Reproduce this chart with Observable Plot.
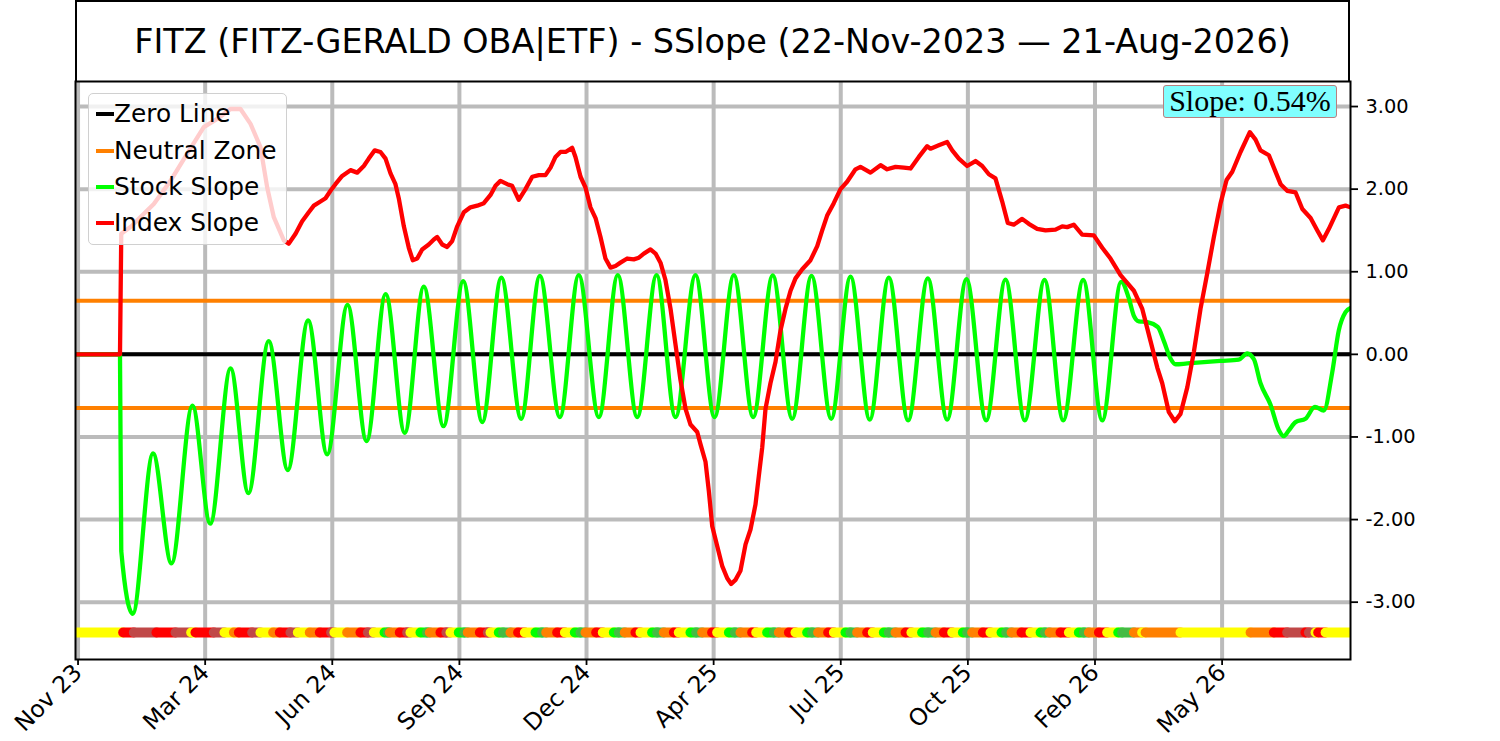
<!DOCTYPE html>
<html><head><meta charset="utf-8">
<script src="https://cdn.jsdelivr.net/npm/d3@7"></script>
<script src="https://cdn.jsdelivr.net/npm/@observablehq/plot@0.6"></script>
<style>
body{margin:0;background:#fff;}
#wrap{position:relative;width:1500px;height:741px;font-family:"DejaVu Sans",sans-serif;overflow:hidden;}
#chart{position:absolute;left:0;top:0;}
#title{position:absolute;left:75px;top:0;width:1275px;height:81px;box-sizing:border-box;border:2px solid #000;border-bottom:none;display:flex;align-items:center;justify-content:center;font-size:33.45px;color:#000;white-space:nowrap;}
#legend{position:absolute;left:88px;top:93px;width:199px;height:152px;box-sizing:border-box;border:1px solid #d0d0d0;border-radius:5px;background:rgba(255,255,255,0.8);}
#legend .sw{position:absolute;left:7px;width:18px;height:4px;}
#legend .lb{position:absolute;left:25px;font-size:24.8px;line-height:30px;color:#000;white-space:nowrap;}
#slope{position:absolute;left:1163px;top:85px;width:174px;height:33px;box-sizing:border-box;border:1.5px solid #b88080;border-radius:3px;background:#80ffff;font-family:"Liberation Serif",serif;font-size:30px;line-height:30px;text-align:center;color:#000;white-space:nowrap;}
</style></head>
<body>
<div id="wrap"><div id="chart"></div><div id="title"></div><div id="legend"></div><div id="slope"></div></div>
<script>
// ---------- data ----------
const startDate = "2023-11-22";
const endDate = "2026-08-21";
const titleText = "FITZ (FITZ-GERALD OBA|ETF) - SSlope (22-Nov-2023 \u2014 21-Aug-2026)";
const slopeText = "Slope: 0.54%";
const tickDates = ["2023-11-24","2024-03-03","2024-06-11","2024-09-19","2024-12-28","2025-04-07","2025-07-16","2025-10-24","2026-02-01","2026-05-12"];
const yTicks = [-3, -2, -1, 0, 1, 2, 3];
const neutralZone = [0.65, -0.65];
const dotLevel = -3.367;

// [day offset from start, value]
const stockSlope = [[0,0],[35,0],[36,-2.38],[45,-3.14],[61,-1.20],[75.5,-2.53],[92,-0.62],[106,-2.05],[122,-0.17],[136,-1.68],[152,0.16],[167,-1.40],[183,0.41],[198,-1.21],[214,0.60],[229,-1.05],[244,0.73],[259,-0.95],[274,0.82],[289.5,-0.87],[305,0.885],[320,-0.82],[335,0.93],[350.6,-0.78],[365.3,0.95],[381,-0.76],[395.9,0.96],[411.7,-0.76],[426.6,0.96],[441.9,-0.76],[457.1,0.96],[472,-0.76],[487.7,0.96],[502.7,-0.76],[517.9,0.96],[533.1,-0.76],[548.5,0.955],[563.8,-0.78],[579,0.95],[594.5,-0.78],[609.7,0.94],[624.8,-0.79],[639.8,0.93],[655,-0.80],[670.5,0.92],[685.7,-0.79],[700.9,0.91],[716.4,-0.80],[731.6,0.905],[746.8,-0.80],[762.3,0.90],[777,-0.80],[792.7,0.90],[807.7,-0.80],[822.6,0.877],[828.6,0.68],[832.5,0.47],[836.5,0.40],[843.1,0.39],[851.5,0.33],[856.2,0.16],[861.4,-0.05],[865.4,-0.12],[874.6,-0.11],[900.8,-0.08],[915.1,-0.065],[921.8,0.01],[927,-0.06],[932.2,-0.35],[940.1,-0.61],[946.6,-0.915],[950.6,-0.99],[954.5,-0.92],[959.8,-0.82],[967.6,-0.78],[975,-0.635],[982,-0.68],[988.6,-0.22],[993.8,0.29],[999.1,0.51],[1003,0.56]];

const indexSlope = [[0,0],[35,0],[36,1.46],[44,1.55],[51,1.66],[61.6,1.82],[74.7,2.10],[87.9,2.43],[100.9,2.75],[111.5,2.85],[121.9,2.97],[129.8,2.97],[137.7,2.79],[145.5,2.51],[150.8,2.02],[156,1.66],[163.9,1.38],[167.8,1.34],[173.1,1.46],[178.3,1.61],[183.5,1.72],[187.5,1.80],[192.7,1.85],[196.7,1.89],[200.6,1.98],[204.5,2.06],[209.8,2.16],[216.3,2.23],[221.6,2.20],[226.8,2.28],[230.7,2.37],[235.4,2.47],[239.9,2.45],[243.9,2.37],[247.8,2.19],[251.7,2.06],[254.3,1.89],[258.3,1.55],[262.2,1.29],[265.3,1.14],[268.8,1.16],[272.7,1.27],[277.9,1.33],[281.9,1.39],[284.5,1.42],[288.5,1.33],[292.4,1.30],[296.3,1.37],[300.3,1.55],[305.5,1.72],[310.7,1.78],[316,1.80],[321.2,1.83],[326.5,1.93],[330.4,2.04],[334.3,2.10],[339.6,2.06],[343.5,2.04],[348.7,1.87],[354,2.00],[359.3,2.15],[364.5,2.17],[369.7,2.17],[373.7,2.26],[377.6,2.39],[381.5,2.45],[385.5,2.45],[390.7,2.50],[393.3,2.39],[397.3,2.15],[401.2,2.02],[405.1,1.78],[409.1,1.65],[413,1.42],[416.9,1.16],[420.9,1.05],[424.8,1.07],[428.7,1.11],[434,1.16],[439.2,1.15],[443.2,1.17],[447.1,1.22],[452.3,1.27],[456.3,1.22],[460.2,1.11],[464.1,0.90],[468.1,0.55],[472,0.12],[475.9,-0.31],[479.9,-0.66],[483.8,-0.85],[489.1,-0.94],[491.7,-1.09],[495.6,-1.30],[498.2,-1.65],[500.9,-2.08],[504.8,-2.32],[508.7,-2.56],[512.7,-2.71],[515.8,-2.78],[519.2,-2.73],[523.1,-2.62],[527.1,-2.30],[531,-2.12],[534.9,-1.82],[537.5,-1.48],[540.2,-1.13],[542.8,-0.66],[546.7,-0.35],[550.7,-0.09],[554.6,0.29],[558.5,0.55],[562.5,0.77],[566.4,0.92],[571.7,1.03],[578.2,1.14],[583.5,1.31],[587.4,1.50],[591.3,1.68],[596.5,1.83],[601.8,2.00],[607,2.09],[613.6,2.24],[617.5,2.27],[625.4,2.20],[633.3,2.29],[638.5,2.24],[645.1,2.27],[651.6,2.26],[656.9,2.25],[663.4,2.39],[670,2.52],[672.6,2.49],[679.1,2.53],[685.7,2.57],[689.7,2.47],[694.9,2.37],[701.4,2.28],[708,2.34],[713.3,2.28],[718.5,2.18],[723.7,2.13],[729,1.85],[733.4,1.59],[738.1,1.57],[744.7,1.64],[749.9,1.58],[756.5,1.52],[763.1,1.50],[770.9,1.51],[776.2,1.55],[780.1,1.54],[785.3,1.57],[791.9,1.45],[801.1,1.44],[807.7,1.29],[814.2,1.16],[822.1,0.96],[832.6,0.77],[839.2,0.55],[845.7,0.16],[851,-0.16],[854.9,-0.35],[860.1,-0.70],[864.8,-0.81],[869.3,-0.72],[874.6,-0.40],[879.8,0.03],[885,0.55],[890.3,0.98],[895.5,1.42],[900.8,1.83],[905.5,2.11],[910,2.21],[916.5,2.45],[923.8,2.69],[928.3,2.60],[932.2,2.47],[938.8,2.41],[942.7,2.26],[948,2.06],[953.2,1.98],[959.8,1.96],[965.1,1.76],[971.6,1.65],[976.9,1.50],[981.3,1.38],[986,1.52],[993.9,1.78],[999.1,1.80],[1003,1.78]];

// signal dots: [start day, state]
const dotRuns = [[0,"Y"],[37.5,"R"],[45.9,"B"],[63.7,"R"],[78.7,"B"],[91,"Y"],[94.4,"R"],[108.8,"B"],[117.2,"Y"],[124.6,"O"],[128.5,"R"],[139,"B"],[145.5,"Y"],[155.5,"O"],[160.7,"R"],[169.1,"B"],[174.9,"Y"],[184.3,"O"],[192.2,"R"],[201.1,"B"],[203.7,"Y"],[213.7,"O"],[224.2,"R"],[230,"B"],[234.7,"Y"],[243.1,"G"],[245.7,"D"],[247.3,"O"],[255.1,"R"],[260.9,"B"],[263.5,"Y"],[271.4,"G"],[276.6,"D"],[278.7,"O"],[287.1,"R"],[291.8,"B"],[295,"Y"],[301.5,"G"],[306,"D"],[308.6,"O"],[318.1,"R"],[324.4,"B"],[326.5,"Y"],[333,"G"],[336.4,"D"],
[342.2,"O"],[348.2,"R"],[353.5,"Y"],[361.9,"G"],[367.1,"D"],[370.3,"O"],[378.9,"R"],[385,"Y"],[392.8,"G"],[397.3,"D"],[401.2,"O"],[409.6,"R"],[414.8,"Y"],[423.5,"G"],[427.4,"D"],[432.1,"O"],[440.5,"R"],[444.5,"Y"],[453.6,"G"],[457.6,"D"],[462.8,"O"],[470.7,"R"],[474.6,"Y"],[483.8,"G"],[488.3,"D"],[493,"O"],[500.8,"R"],[504.8,"Y"],[514,"G"],[518.7,"D"],[523.1,"O"],[532.3,"R"],[535.5,"Y"],[544.1,"G"],[549.4,"D"],[553.3,"O"],[561.2,"R"],[566.4,"Y"],[575.6,"G"],[579.5,"D"],[584.2,"O"],[592.1,"R"],[596.6,"Y"],[605.7,"G"],[609.7,"D"],[614.9,"O"],[622.8,"R"],[627.2,"Y"],[635.9,"G"],[639.8,"D"],[645.1,"O"],[653,"R"],[657.6,"Y"],[666,"G"],[670.8,"D"],
[676.6,"O"],[683.1,"R"],[689.7,"Y"],[698.1,"G"],[701.5,"D"],[705.4,"O"],[713.8,"R"],[719.8,"Y"],[728.5,"G"],[732.2,"D"],[736.4,"O"],[744.2,"R"],[751.3,"Y"],[759.2,"G"],[762.6,"D"],[766.3,"O"],[774.9,"R"],[781.5,"Y"],[789.3,"G"],[793.3,"D"],[797.2,"O"],[805.1,"R"],[811.6,"Y"],[820.3,"G"],[823.4,"D"],[832.6,"O"],[839.1,"Y"],[841.8,"O"],[869.3,"Y"],[924.4,"O"],[942.7,"R"],[953.2,"B"],[967.6,"R"],[970.3,"B"],[975.5,"Y"],[977.6,"R"],[983.4,"Y"]];

const stateColors = {Y:"#ffff00", R:"#ff0000", B:"#c04848", O:"#ff8000", G:"#00ff00", D:"#44bb44"};

const legendLabels = ["Zero Line", "Neutral Zone", "Stock Slope", "Index Slope"];
const legendColors = ["#000000", "#ff8000", "#00ff00", "#ff0000"];

// ---------- build ----------
const t0 = d3.utcParse("%Y-%m-%d")(startDate);
const t1 = d3.utcParse("%Y-%m-%d")(endDate);
const dayToDate = d => new Date(t0.getTime() + d * 864e5);
const totalDays = (t1 - t0) / 864e5;
const ticks = tickDates.map(d3.utcParse("%Y-%m-%d"));

const runs = dotRuns.map((r, i) => ({
  s: r[0],
  e: i < dotRuns.length - 1 ? dotRuns[i + 1][0] : totalDays,
  c: stateColors[r[1]]
}));

const gridStyle = {stroke: "#bbbbbb", strokeOpacity: 1, strokeWidth: 4};

const chart = Plot.plot({
  width: 1500,
  height: 741,
  marginLeft: 75,
  marginRight: 150,
  marginTop: 81,
  marginBottom: 82,
  style: {fontFamily: "DejaVu Sans", fontSize: "19.4px", color: "#000", background: "#fff", overflow: "visible"},
  x: {type: "utc", domain: [t0, t1]},
  y: {domain: [-3.694, 3.303]},
  color: {type: "identity"},
  marks: [
    Plot.gridX(ticks, gridStyle),
    Plot.gridY(yTicks, gridStyle),
    Plot.ruleY([0], {stroke: "#000", strokeWidth: 4}),
    Plot.ruleY(neutralZone, {stroke: "#ff8000", strokeWidth: 4}),
    Plot.line(stockSlope, {x: d => dayToDate(d[0]), y: d => d[1], stroke: "#00ff00", strokeWidth: 4.3, curve: "monotone-x", clip: true}),
    Plot.line(indexSlope, {x: d => dayToDate(d[0]), y: d => d[1], stroke: "#ff0000", strokeWidth: 4.3, clip: true}),
    Plot.link(runs, {x1: d => dayToDate(d.s), x2: d => dayToDate(d.e), y1: () => dotLevel, y2: () => dotLevel, stroke: d => d.c, strokeWidth: 10, strokeLinecap: "round", clip: true}),
    Plot.frame({stroke: "#000", strokeWidth: 2}),
    Plot.axisX(ticks, {anchor: "bottom", tickFormat: d3.utcFormat("%b %y"), tickRotate: -45, tickSize: 6, tickPadding: 3, strokeWidth: 1.8, fontSize: 23.5, label: null}),
    Plot.axisY(yTicks, {anchor: "right", tickFormat: d => d.toFixed(2), tickSize: 7, tickPadding: 8, strokeWidth: 1.8, fontSize: 19.4, label: null})
  ]
});
document.getElementById("chart").appendChild(chart);

document.getElementById("title").textContent = titleText;
document.getElementById("slope").textContent = slopeText;

const legend = document.getElementById("legend");
const rowCenters = [20, 57, 93, 129];
legendLabels.forEach((lab, i) => {
  const sw = document.createElement("div");
  sw.className = "sw";
  sw.style.top = (rowCenters[i] - 2) + "px";
  sw.style.background = legendColors[i];
  legend.appendChild(sw);
  const lb = document.createElement("div");
  lb.className = "lb";
  lb.style.top = (rowCenters[i] - 15) + "px";
  lb.textContent = lab;
  legend.appendChild(lb);
});
</script>
</body></html>
